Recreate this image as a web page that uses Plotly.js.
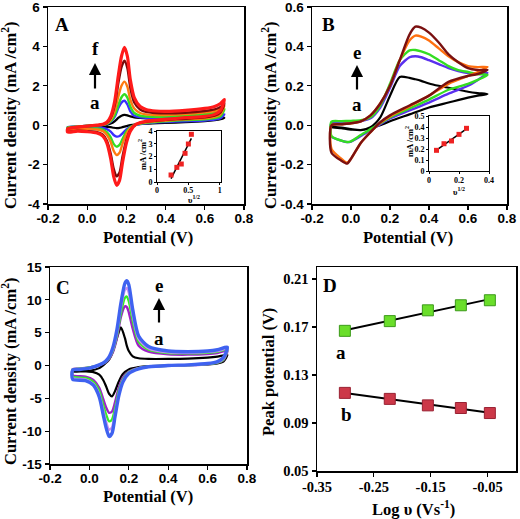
<!DOCTYPE html>
<html><head><meta charset="utf-8">
<script src="https://cdn.plot.ly/plotly-3.0.1.min.js"></script>
<style>html,body{margin:0;padding:0;background:#fff}</style>
</head><body><div id="chart" style="width:520px;height:519px"></div>
<script>
// ---------- Panel A: potentials (V) and current densities (mA/cm2) ----------
var potA_fwd = [-0.1,-0.05,0,0.05,0.08,0.1,0.12,0.14,0.16,0.175,0.19,0.205,0.22,0.24,0.27,0.3,0.35,0.4,0.5,0.6,0.65,0.68,0.7];
var potA_rev = [0.68,0.65,0.6,0.5,0.4,0.3,0.25,0.22,0.2,0.18,0.165,0.15,0.135,0.12,0.1,0.08,0.05,0,-0.05,-0.1];
var A_a_fwd = [-0.12,-0.08,-0.05,-0.03,-0.01,0.02,0.08,0.2,0.38,0.48,0.52,0.5,0.45,0.4,0.37,0.35,0.34,0.34,0.35,0.36,0.37,0.38,0.38];
var A_a_rev = [0.3,0.25,0.2,0.15,0.12,0.08,0.04,0.0,-0.05,-0.1,-0.14,-0.15,-0.13,-0.1,-0.08,-0.1,-0.12,-0.12,-0.12,-0.12];
var A_b_fwd = [-0.1,-0.06,-0.03,0.0,0.02,0.06,0.17,0.42,0.9,1.15,1.24,1.05,0.7,0.48,0.4,0.37,0.36,0.37,0.4,0.45,0.48,0.52,0.55];
var A_b_rev = [0.35,0.28,0.24,0.2,0.16,0.1,0.02,-0.08,-0.22,-0.42,-0.55,-0.58,-0.5,-0.33,-0.2,-0.14,-0.12,-0.12,-0.12,-0.14];
var A_c_fwd = [-0.12,-0.07,-0.03,0.0,0.02,0.07,0.2,0.5,1.05,1.42,1.57,1.4,0.95,0.62,0.48,0.44,0.43,0.44,0.48,0.56,0.62,0.7,0.82];
var A_c_rev = [0.45,0.36,0.3,0.26,0.2,0.12,0.03,-0.1,-0.32,-0.7,-1.0,-1.09,-0.95,-0.62,-0.35,-0.22,-0.17,-0.15,-0.15,-0.18];
var A_d_fwd = [-0.15,-0.08,-0.04,0.0,0.03,0.09,0.28,0.7,1.5,2.0,2.21,1.95,1.3,0.85,0.62,0.55,0.52,0.52,0.56,0.65,0.72,0.82,1.0];
var A_d_rev = [0.55,0.42,0.35,0.3,0.24,0.15,0.04,-0.15,-0.45,-0.95,-1.4,-1.51,-1.3,-0.85,-0.48,-0.3,-0.22,-0.2,-0.2,-0.25];
var A_e_fwd = [-0.18,-0.1,-0.05,0.0,0.04,0.12,0.38,1.0,2.2,2.95,3.27,2.9,1.9,1.15,0.8,0.68,0.62,0.6,0.63,0.72,0.8,0.92,1.1];
var A_e_rev = [0.65,0.48,0.4,0.33,0.27,0.18,0.05,-0.25,-0.75,-1.6,-2.4,-2.6,-2.2,-1.45,-0.78,-0.48,-0.35,-0.3,-0.28,-0.32];
var A_f_fwd = [-0.2,-0.1,-0.05,0.0,0.05,0.15,0.45,1.2,2.6,3.5,3.95,3.5,2.3,1.4,0.95,0.8,0.72,0.7,0.75,0.85,0.95,1.1,1.3];
var A_f_rev = [0.75,0.55,0.45,0.38,0.3,0.2,0.05,-0.3,-0.9,-1.9,-2.8,-3.05,-2.6,-1.7,-0.9,-0.55,-0.4,-0.33,-0.3,-0.35];
// inset A
var insA_x = [0.224,0.316,0.387,0.447,0.5,0.548];
var insA_y = [0.55,1.15,1.41,2.25,2.98,3.74];

// ---------- Panel B ----------
var potB_fwd = [-0.1,-0.05,0,0.05,0.1,0.15,0.2,0.25,0.3,0.33,0.36,0.4,0.45,0.5,0.55,0.6,0.65,0.7];
var potB_rev = [0.65,0.6,0.5,0.4,0.3,0.2,0.15,0.1,0.05,0,-0.02,-0.05,-0.1];
var B_a_fwd = [-0.008,-0.012,-0.02,-0.025,-0.01,0.04,0.15,0.245,0.24,0.233,0.225,0.212,0.2,0.19,0.18,0.17,0.163,0.158];
var B_a_rev = [0.15,0.14,0.115,0.09,0.055,0.02,0.0,-0.015,-0.025,-0.022,-0.02,-0.015,-0.01];
var B_b_fwd = [0.01,0.012,0.015,0.02,0.035,0.09,0.19,0.3,0.345,0.35,0.345,0.33,0.31,0.29,0.275,0.265,0.262,0.265];
var B_b_rev = [0.23,0.2,0.16,0.115,0.075,0.035,0.005,-0.025,-0.055,-0.083,-0.086,-0.078,-0.058];
var B_c_fwd = [0.018,0.02,0.022,0.025,0.04,0.1,0.21,0.33,0.38,0.382,0.375,0.36,0.33,0.3,0.28,0.27,0.26,0.255];
var B_c_rev = [0.23,0.21,0.18,0.13,0.085,0.04,0.01,-0.02,-0.05,-0.082,-0.085,-0.078,-0.055];
var B_d_fwd = [0.0,0.005,0.01,0.02,0.05,0.11,0.2,0.33,0.43,0.455,0.45,0.43,0.39,0.35,0.32,0.3,0.295,0.295];
var B_d_rev = [0.27,0.25,0.21,0.15,0.095,0.045,0.012,-0.035,-0.09,-0.17,-0.19,-0.17,-0.12];
var B_e_fwd = [0.0,0.005,0.01,0.02,0.05,0.11,0.2,0.33,0.46,0.5,0.495,0.47,0.42,0.36,0.32,0.29,0.28,0.28];
var B_e_rev = [0.26,0.25,0.22,0.15,0.1,0.05,0.015,-0.035,-0.09,-0.17,-0.195,-0.18,-0.14];
// inset B
var insB_x = [0.05,0.1,0.15,0.2,0.25];
var insB_y = [0.188,0.248,0.273,0.333,0.388];

// ---------- Panel C ----------
var potC_fwd = [-0.085,-0.05,0,0.05,0.08,0.1,0.12,0.14,0.16,0.18,0.19,0.2,0.22,0.25,0.3,0.4,0.5,0.6,0.65,0.7];
var potC_rev = [0.68,0.65,0.6,0.5,0.4,0.3,0.25,0.2,0.17,0.15,0.13,0.115,0.1,0.085,0.07,0.05,0.02,-0.02,-0.085];
var C_a_fwd = [-0.85,-0.85,-0.8,-0.4,0.3,0.9,2.2,4.2,5.8,4.2,3.0,2.2,1.4,1.1,1.0,1.0,1.05,1.2,1.35,1.6];
var C_a_rev = [0.6,0.3,0.15,0.05,0.0,-0.1,-0.25,-0.6,-1.3,-2.4,-3.9,-4.7,-4.3,-3.2,-2.2,-1.4,-1.0,-0.9,-0.9];
var C_b_fwd = [-0.55,-0.48,-0.3,0.05,0.45,1.0,2.1,4.2,7.4,9.0,8.9,8.1,5.6,3.0,2.1,1.7,1.65,1.75,1.9,2.25];
var C_b_rev = [0.8,0.4,0.2,0.05,-0.05,-0.2,-0.35,-0.9,-1.8,-3.3,-5.6,-7.0,-7.2,-6.4,-5.1,-3.4,-2.2,-1.7,-1.5];
var C_c_fwd = [-0.6,-0.5,-0.3,0.1,0.5,1.1,2.3,4.6,8.0,10.3,10.5,9.8,6.8,3.6,2.4,1.9,1.85,1.95,2.1,2.45];
var C_c_rev = [0.9,0.45,0.22,0.06,-0.03,-0.2,-0.4,-1.0,-2.1,-3.8,-6.5,-8.2,-8.5,-7.5,-6.0,-3.9,-2.5,-1.9,-1.7];
var C_d_fwd = [-0.65,-0.55,-0.35,0.1,0.55,1.2,2.5,5.0,8.8,11.5,11.8,11.1,7.6,4.0,2.6,2.0,1.95,2.05,2.2,2.55];
var C_d_rev = [1.0,0.5,0.25,0.08,-0.02,-0.2,-0.45,-1.1,-2.3,-4.2,-7.2,-9.4,-9.8,-8.6,-6.8,-4.4,-2.8,-2.1,-1.9];
var C_e_fwd = [-0.7,-0.6,-0.4,0.1,0.6,1.3,2.8,5.5,9.5,12.5,12.9,12.3,8.5,4.5,2.9,2.2,2.1,2.2,2.4,2.8];
var C_e_rev = [1.2,0.6,0.3,0.1,0.0,-0.2,-0.5,-1.2,-2.5,-4.5,-7.8,-10.3,-10.8,-9.5,-7.5,-4.8,-3.0,-2.3,-2.1];

// ---------- Panel D ----------
var logScan = [-0.301,-0.222,-0.155,-0.097,-0.046];
var epAnodic = [0.1668,0.1749,0.1839,0.1881,0.1923];
var epCathodic = [0.1151,0.1101,0.1047,0.1025,0.0983];

// ---------- tick labels ----------
var tickPot = ['-0.2','0.0','0.2','0.4','0.6','0.8'];
var tickA_y = ['-4','-2','0','2','4','6'];
var tickB_y = ['-0.4','-0.2','0.0','0.2','0.4','0.6'];
var tickC_y = ['-15','-10','-5','0','5','10','15'];
var tickD_x = ['-0.35','-0.25','-0.15','-0.05'];
var tickD_y = ['0.05','0.09','0.13','0.17','0.21'];
var tickInsA_x = ['0','0.5','1'];
var tickInsA_y = ['0','1','2','3','4'];
var tickInsB_x = ['0','0.2','0.4'];
var tickInsB_y = ['0','0.1','0.2','0.3','0.4','0.5'];

var W = 520, H = 519;
function PX(x){ return x/W; }
function PY(y){ return 1 - y/H; }

function cv(xf, xr, yf, yr, color, width, xa, ya){
  var x = xf.concat(xr), y = yf.concat(yr);
  x.push(x[0]); y.push(y[0]);
  return {x:x, y:y, xaxis:xa, yaxis:ya, mode:'lines', type:'scatter',
    line:{color:color, width:width, shape:'spline', smoothing:0.7}, hoverinfo:'skip'};
}
function fit(xs, ys){
  var n = xs.length, mx=0, my=0;
  for (var i=0;i<n;i++){ mx+=xs[i]; my+=ys[i]; }
  mx/=n; my/=n;
  var sxy=0, sxx=0;
  for (var j=0;j<n;j++){ sxy+=(xs[j]-mx)*(ys[j]-my); sxx+=(xs[j]-mx)*(xs[j]-mx); }
  var b = sxy/sxx, a = my - b*mx;
  var x0 = Math.min.apply(null, xs), x1 = Math.max.apply(null, xs);
  return {x:[x0,x1], y:[a+b*x0, a+b*x1]};
}
function tickVals(labels){ return labels.map(Number); }

var traces = [];
// A
traces.push(cv(potA_fwd, potA_rev, A_a_fwd, A_a_rev, '#000000', 2.2, 'x', 'y'));
traces.push(cv(potA_fwd, potA_rev, A_b_fwd, A_b_rev, '#3a30ff', 2.4, 'x', 'y'));
traces.push(cv(potA_fwd, potA_rev, A_c_fwd, A_c_rev, '#33dd22', 2.4, 'x', 'y'));
traces.push(cv(potA_fwd, potA_rev, A_d_fwd, A_d_rev, '#ff7a10', 2.4, 'x', 'y'));
traces.push(cv(potA_fwd, potA_rev, A_e_fwd, A_e_rev, '#7a0a0a', 2.4, 'x', 'y'));
traces.push(cv(potA_fwd, potA_rev, A_f_fwd, A_f_rev, '#ff1a1a', 3.2, 'x', 'y'));
// B
traces.push(cv(potB_fwd, potB_rev, B_a_fwd, B_a_rev, '#000000', 2.2, 'x2', 'y2'));
traces.push(cv(potB_fwd, potB_rev, B_b_fwd, B_b_rev, '#5a30ee', 2.4, 'x2', 'y2'));
traces.push(cv(potB_fwd, potB_rev, B_c_fwd, B_c_rev, '#33dd22', 2.4, 'x2', 'y2'));
traces.push(cv(potB_fwd, potB_rev, B_d_fwd, B_d_rev, '#ff7010', 2.4, 'x2', 'y2'));
traces.push(cv(potB_fwd, potB_rev, B_e_fwd, B_e_rev, '#7a1010', 2.4, 'x2', 'y2'));
// C
traces.push(cv(potC_fwd, potC_rev, C_a_fwd, C_a_rev, '#000000', 2.2, 'x3', 'y3'));
traces.push(cv(potC_fwd, potC_rev, C_b_fwd, C_b_rev, '#a020c8', 2.4, 'x3', 'y3'));
traces.push(cv(potC_fwd, potC_rev, C_c_fwd, C_c_rev, '#33ee22', 2.4, 'x3', 'y3'));
traces.push(cv(potC_fwd, potC_rev, C_d_fwd, C_d_rev, '#c890f0', 2.4, 'x3', 'y3'));
traces.push(cv(potC_fwd, potC_rev, C_e_fwd, C_e_rev, '#3f62f0', 3.4, 'x3', 'y3'));
// D
var fa = fit(logScan, epAnodic), fc = fit(logScan, epCathodic);
traces.push({x:fa.x, y:fa.y, xaxis:'x4', yaxis:'y4', mode:'lines', line:{color:'#000', width:2}, hoverinfo:'skip'});
traces.push({x:fc.x, y:fc.y, xaxis:'x4', yaxis:'y4', mode:'lines', line:{color:'#000', width:2}, hoverinfo:'skip'});
traces.push({x:logScan, y:epAnodic, xaxis:'x4', yaxis:'y4', mode:'markers',
  marker:{symbol:'square', size:11, color:'#6ade2a', line:{color:'#3c9a1a', width:1}}, hoverinfo:'skip'});
traces.push({x:logScan, y:epCathodic, xaxis:'x4', yaxis:'y4', mode:'markers',
  marker:{symbol:'square', size:11, color:'#cc3848', line:{color:'#992233', width:1}}, hoverinfo:'skip'});
// insets
var fA = fit(insA_x, insA_y), fB = fit(insB_x, insB_y);
traces.push({x:fA.x, y:fA.y, xaxis:'x5', yaxis:'y5', mode:'lines', line:{color:'#000', width:1.5}, hoverinfo:'skip'});
traces.push({x:insA_x, y:insA_y, xaxis:'x5', yaxis:'y5', mode:'markers', marker:{symbol:'square', size:5, color:'#ee2222'}, hoverinfo:'skip'});
traces.push({x:fB.x, y:fB.y, xaxis:'x6', yaxis:'y6', mode:'lines', line:{color:'#000', width:1.5}, hoverinfo:'skip'});
traces.push({x:insB_x, y:insB_y, xaxis:'x6', yaxis:'y6', mode:'markers', marker:{symbol:'square', size:5, color:'#ee2222'}, hoverinfo:'skip'});

var sansBold = {family:'Liberation Sans, Arial, sans-serif', size:13.5, color:'#000', weight:700};
var serifBold = {family:'Liberation Serif, Times New Roman, serif', size:14.5, color:'#000', weight:700};
var serifSmall = {family:'Liberation Serif, Times New Roman, serif', size:8, color:'#000', weight:700};

function ax(domain, range, labels, font, anchor, extra){
  return Object.assign({domain:domain, range:range, anchor:anchor, tickmode:'array',
    tickvals:tickVals(labels), ticktext:labels, showline:true, mirror:true, linecolor:'#000',
    linewidth:1.5, ticks:'outside', ticklen:4, tickwidth:1.2, tickcolor:'#000',
    showgrid:false, zeroline:false, tickfont:font, fixedrange:true,
    ticklabeloverflow:'allow'}, extra||{});
}

var layout = {
  width:W, height:H, margin:{l:0,r:0,t:0,b:0}, showlegend:false,
  paper_bgcolor:'#fff', plot_bgcolor:'#fff',
  xaxis: ax([PX(48),PX(244)], [-0.2,0.8], tickPot, sansBold, 'y', {ticklabelstandoff:-3}),
  yaxis: ax([PY(204),PY(7)], [-4,6], tickA_y, sansBold, 'x'),
  xaxis2: ax([PX(312),PX(507)], [-0.2,0.8], tickPot, sansBold, 'y2', {ticklabelstandoff:-3}),
  yaxis2: ax([PY(204),PY(7)], [-0.4,0.6], tickB_y, sansBold, 'x2'),
  xaxis3: ax([PX(50),PX(247)], [-0.2,0.8], tickPot, sansBold, 'y3', {ticklabelstandoff:-3}),
  yaxis3: ax([PY(464),PY(267)], [-15,15], tickC_y, sansBold, 'x3'),
  xaxis4: ax([PX(317),PX(516)], [-0.35,0], tickD_x, serifBold, 'y4', {ticklabelstandoff:-2}),
  yaxis4: ax([PY(471),PY(267)], [0.05,0.22], tickD_y, serifBold, 'x4'),
  xaxis5: ax([PX(157),PX(221)], [0,1.02], tickInsA_x, serifSmall, 'y5', {ticklen:2, linewidth:1, tickwidth:1, ticklabelstandoff:-2}),
  yaxis5: ax([PY(182),PY(131)], [0,4], tickInsA_y, serifSmall, 'x5', {ticklen:2, linewidth:1, tickwidth:1}),
  xaxis6: ax([PX(429),PX(489)], [0,0.4], tickInsB_x, serifSmall, 'y6', {ticklen:2, linewidth:1, tickwidth:1, ticklabelstandoff:-1}),
  yaxis6: ax([PY(171),PY(116)], [0,0.5], tickInsB_y, serifSmall, 'x6', {ticklen:2, linewidth:1, tickwidth:1}),
  annotations: []
};

var titleFont = {family:'Liberation Serif, Times New Roman, serif', size:16.5, color:'#000', weight:700};
var letterFont = {family:'Liberation Serif, Times New Roman, serif', size:19, color:'#000', weight:700};
var insFont = {family:'Liberation Serif, Times New Roman, serif', size:8.5, color:'#000', weight:700};
function txt(text, x, y, font, angle){
  layout.annotations.push({text:text, x:PX(x), y:PY(y), xref:'paper', yref:'paper',
    showarrow:false, font:font, textangle:angle||0, xanchor:'center', yanchor:'middle', borderpad:0});
}
function arrow(x, yHead, yTail){
  layout.annotations.push({text:'', x:PX(x), y:PY(yHead), xref:'paper', yref:'paper',
    showarrow:true, ax:0, ay:yTail-yHead, arrowhead:2, arrowsize:1.1, arrowwidth:2.2, arrowcolor:'#000', standoff:0, startstandoff:0});
}
// axis titles
txt('Current density (mA /cm<sup>2</sup>)', 9, 116, titleFont, -90);
txt('Potential (V)', 148, 238, titleFont);
txt('Current density (mA /cm<sup>2</sup>)', 269, 116, titleFont, -90);
txt('Potential (V)', 408, 238, titleFont);
txt('Current density (mA /cm<sup>2</sup>)', 9, 372, titleFont, -90);
txt('Potential (V)', 148, 496, titleFont);
txt('Peak potential (V)', 268, 372, titleFont, -90);
txt('Log υ (Vs<sup>-1</sup>)', 413, 508, titleFont);
// panel letters
txt('A', 62, 25, letterFont);
txt('B', 328, 25, letterFont);
txt('C', 63, 287, letterFont);
txt('D', 330, 285, letterFont);
// series markers
txt('f', 95, 49, letterFont);
arrow(95, 63, 90);
txt('a', 95, 102, letterFont);
txt('e', 357, 52, letterFont);
arrow(357, 65, 91);
txt('a', 357, 104, letterFont);
txt('e', 159, 285, letterFont);
arrow(159, 298, 324);
txt('a', 159, 338, letterFont);
txt('a', 341, 352, letterFont);
txt('b', 346, 414, letterFont);
// inset titles
txt('mA /cm<sup>2</sup>', 142, 155, insFont, -90);
txt('υ<sup>1/2</sup>', 194, 200, insFont);
txt('mA /cm<sup>2</sup>', 409, 142, insFont, -90);
txt('υ<sup>1/2</sup>', 459, 191, insFont);

Plotly.newPlot('chart', traces, layout, {staticPlot:true, displayModeBar:false});
</script></body></html>
